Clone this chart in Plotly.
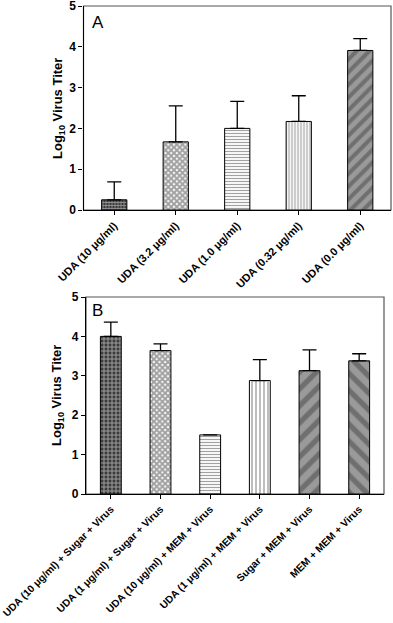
import plotly.graph_objects as go

# ---- data ----
cats_a = ["UDA (10 μg/ml)", "UDA (3.2 μg/ml)", "UDA (1.0 μg/ml)", "UDA (0.32 μg/ml)", "UDA (0.0 μg/ml)"]
vals_a = [0.25, 1.67, 2.0, 2.17, 3.91]
err_a = [0.44, 0.88, 0.66, 0.63, 0.29]

cats_b = ["UDA (10 μg/ml) + Sugar + Virus", "UDA (1 μg/ml) + Sugar + Virus",
          "UDA (10 μg/ml) + MEM + Virus", "UDA (1 μg/ml) + MEM + Virus",
          "Sugar + MEM + Virus", "MEM + MEM + Virus"]
vals_b = [4.0, 3.64, 1.5, 2.88, 3.13, 3.38]
err_b = [0.36, 0.17, 0.0, 0.53, 0.53, 0.18]

y_ticks = [0, 1, 2, 3, 4, 5]

# ---- styles ----
shapes_a = ["+", "x", "-", "|", "/"]
fg_a = ["#8a8a8a", "#000000", "#000000", "#000000", "#555555"]
bg_a = ["#3a3a3a", "#ffffff", "#ffffff", "#ffffff", "#9a9a9a"]
size_a = [3, 4, 3, 3, 9]
sol_a = [0.45, 0.75, 0.4, 0.4, 0.45]
shapes_b = ["+", "x", "-", "|", "/", "\\"]
fg_b = ["#8a8a8a", "#000000", "#000000", "#000000", "#555555", "#555555"]
bg_b = ["#3a3a3a", "#ffffff", "#ffffff", "#ffffff", "#9a9a9a", "#9a9a9a"]
size_b = [4, 4, 3, 4, 12, 12]
sol_b = [0.45, 0.75, 0.4, 0.35, 0.45, 0.45]

W, H = 393, 623
FONT = "Liberation Sans, Arial, sans-serif"


def px_x(v):
    return v / W


def px_y(v):
    return 1 - v / H


fig = go.Figure()

fig.add_trace(go.Bar(
    x=cats_a, y=vals_a, xaxis="x", yaxis="y", width=0.41,
    marker=dict(color=bg_a, line=dict(color="black", width=1),
                pattern=dict(shape=shapes_a, fgcolor=fg_a, size=size_a,
                             solidity=sol_a, fillmode="overlay")),
    error_y=dict(type="data", symmetric=False, array=err_a, arrayminus=[0] * 5,
                 color="black", thickness=1.3, width=7),
    showlegend=False))

fig.add_trace(go.Bar(
    x=cats_b, y=vals_b, xaxis="x2", yaxis="y2", width=0.42,
    marker=dict(color=bg_b, line=dict(color="black", width=1),
                pattern=dict(shape=shapes_b, fgcolor=fg_b, size=size_b,
                             solidity=sol_b, fillmode="overlay")),
    error_y=dict(type="data", symmetric=False, array=err_b, arrayminus=[0] * 6,
                 color="black", thickness=1.3, width=7),
    showlegend=False))

dom_xa = [px_x(83.5), px_x(391)]
dom_ya = [px_y(210), px_y(6)]
dom_xb = [px_x(86), px_x(384)]
dom_yb = [px_y(494), px_y(297)]

tickfont = dict(family=FONT, size=12, color="black", weight="bold")
xtickfont_a = dict(family=FONT, size=11, color="black", weight="bold")
xtickfont_b = dict(family=FONT, size=10.3, color="black", weight="bold")

common_y = dict(range=[0, 5], tickvals=y_ticks, ticks="outside", ticklen=4, tickwidth=1,
                tickcolor="black", showline=True, linecolor="black", linewidth=1.2,
                showgrid=False, zeroline=False, tickfont=tickfont, automargin=False,
                ticklabeloverflow="allow")
common_x = dict(type="category", ticks="outside", ticklen=4, tickwidth=1, tickcolor="black",
                showline=True, linecolor="black", linewidth=1.2, showgrid=False,
                tickangle=-45, automargin=False, ticklabeloverflow="allow")

fig.update_layout(
    width=W, height=H,
    margin=dict(l=0, r=0, t=0, b=0),
    paper_bgcolor="white", plot_bgcolor="white",
    xaxis=dict(domain=dom_xa, anchor="y", tickfont=xtickfont_a, **common_x),
    yaxis=dict(domain=dom_ya, anchor="x", **common_y),
    xaxis2=dict(domain=dom_xb, anchor="y2", tickfont=xtickfont_b, **common_x),
    yaxis2=dict(domain=dom_yb, anchor="x2", **common_y),
    shapes=[
        dict(type="rect", xref="x domain", yref="y domain", x0=0, x1=1, y0=0, y1=1,
             line=dict(color="#555555", width=1.2), layer="below"),
        dict(type="rect", xref="x2 domain", yref="y2 domain", x0=0, x1=1, y0=0, y1=1,
             line=dict(color="#555555", width=1.2), layer="below"),
    ],
    annotations=[
        dict(text="A", x=0.02, y=0.92, xref="x domain", yref="y domain", showarrow=False,
             xanchor="left", yanchor="middle", font=dict(family=FONT, size=17, color="black")),
        dict(text="B", x=0.015, y=0.93, xref="x2 domain", yref="y2 domain", showarrow=False,
             xanchor="left", yanchor="middle", font=dict(family=FONT, size=17, color="black")),
        dict(text="Log<sub>10</sub> Virus Titer", x=px_x(58), y=px_y(108), xref="paper",
             yref="paper", showarrow=False, textangle=-90, xanchor="center", yanchor="middle",
             font=dict(family=FONT, size=13, color="black", weight="bold")),
        dict(text="Log<sub>10</sub> Virus Titer", x=px_x(58), y=px_y(395), xref="paper",
             yref="paper", showarrow=False, textangle=-90, xanchor="center", yanchor="middle",
             font=dict(family=FONT, size=13, color="black", weight="bold")),
    ],
)

fig.write_html("out.html", config={"displayModeBar": False},
               post_script="document.body.style.margin='0px';")
